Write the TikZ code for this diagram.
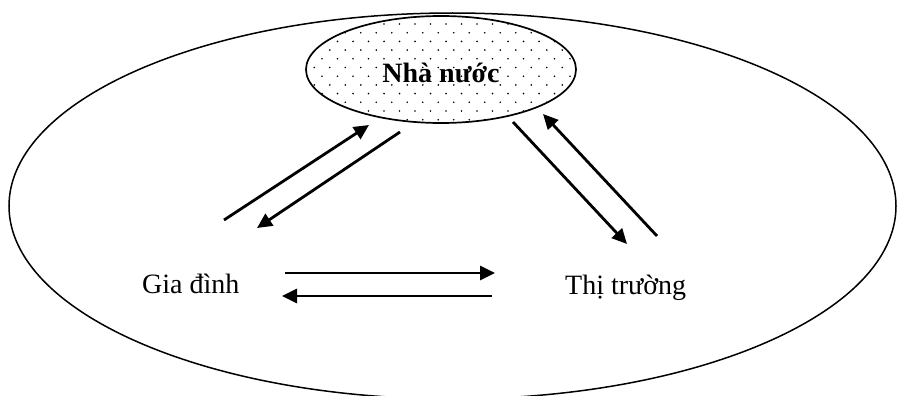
\documentclass[tikz,border=0pt]{standalone}
\usepackage{fontspec}
\setmainfont{Liberation Serif}
\usetikzlibrary{arrows.meta}
\tikzset{
  flow/.style={line width=2.8pt,-{Triangle[length=15pt,width=14pt]}},
  lbl/.style={font=\fontsize{28}{32}\selectfont,inner sep=0pt},
  dotmark/.style={fill=black}
}
\begin{document}
\begin{tikzpicture}[x=1pt,y=-1pt]
\useasboundingbox (0,0) rectangle (897,396);
\clip (0,0) rectangle (897,396);
% outer ellipse
\draw[line width=1.5pt] (452.5,206) ellipse [x radius=443.5, y radius=193];
% inner ellipse with dot pattern
\begin{scope}
  \clip (441,69.5) ellipse [x radius=135, y radius=53.5];
  \foreach \r in {0,...,14}{
    \pgfmathsetmacro{\yy}{6.6+\r*8.7}
    \pgfmathsetmacro{\xo}{384+7.75*mod(\r,2)}
    \foreach \c in {-6,...,12}{
      \fill[dotmark] ({\xo+\c*15.5},\yy) circle (0.9pt);
    }
  }
\end{scope}
\draw[line width=1.7pt] (441,69.5) ellipse [x radius=135, y radius=53.5];
% labels
\node[lbl,anchor=base,font=\fontsize{28}{32}\selectfont\bfseries] (nn) at (441,82) {Nhà nước};
\node[lbl,anchor=base west] (gd) at (142,293) {Gia đình};
\node[lbl,anchor=base west] (tt) at (565,294) {Thị trường};
% arrow end points
\coordinate (a1s) at (224,220);
\coordinate (a1e) at (369,125);
\coordinate (a2s) at (400,132);
\coordinate (a2e) at (257,228);
\coordinate (a3s) at (513,122);
\coordinate (a3e) at (627,244);
\coordinate (a4s) at (657,236);
\coordinate (a4e) at (543,114);
\coordinate (a5s) at (285,273);
\coordinate (a5e) at (495,273);
\coordinate (a6s) at (492,296);
\coordinate (a6e) at (282,296);
\draw[flow] (a1s) -- (a1e);
\draw[flow] (a2s) -- (a2e);
\draw[flow] (a3s) -- (a3e);
\draw[flow] (a4s) -- (a4e);
\draw[flow] (a5s) -- (a5e);
\draw[flow] (a6s) -- (a6e);
\end{tikzpicture}
\end{document}
